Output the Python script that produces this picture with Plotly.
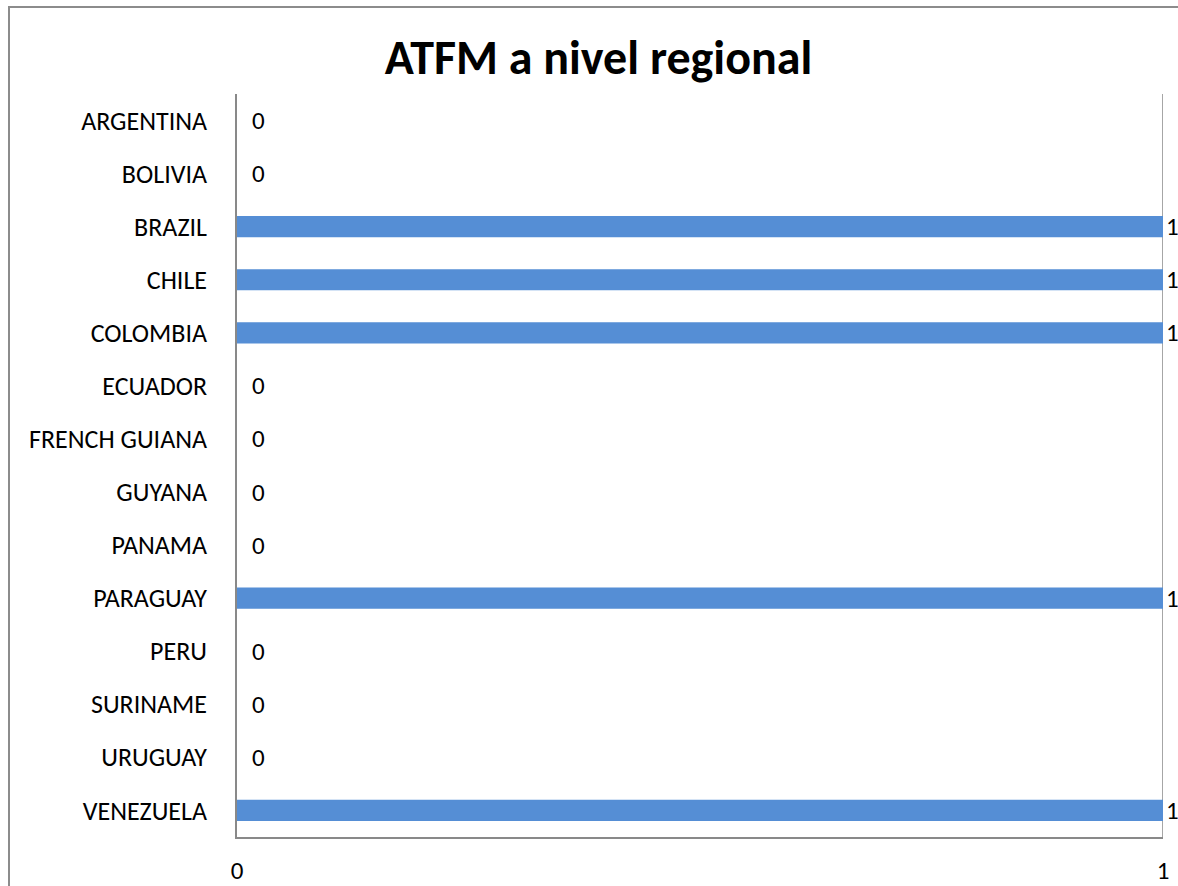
import plotly.graph_objects as go

countries = ["ARGENTINA", "BOLIVIA", "BRAZIL", "CHILE", "COLOMBIA", "ECUADOR",
             "FRENCH GUIANA", "GUYANA", "PANAMA", "PARAGUAY", "PERU", "SURINAME",
             "URUGUAY", "VENEZUELA"]
values = [0, 0, 1, 1, 1, 0, 0, 0, 0, 1, 0, 0, 0, 1]
x_ticks = [0, 1]
title_text = "ATFM a nivel regional"

FONT = "Carlito, Lato, sans-serif"
BAR = "#558ED5"
AX = "#898989"
FS = 26

fig = go.Figure()
fig.add_trace(go.Bar(
    x=values, y=countries, orientation="h",
    marker=dict(color=BAR, line=dict(width=0)),
    width=0.4, cliponaxis=False, hoverinfo="x+y",
))

annotations = []
for c, v in zip(countries, values):
    annotations.append(dict(
        x=v, y=c, xref="x", yref="y", text=str(v), showarrow=False,
        xanchor="left", yanchor="middle", xshift=13 if v == 0 else 1,
        font=dict(family=FONT, size=FS - 1, color="#000000"),
    ))

fig.update_layout(
    width=1178, height=886,
    margin=dict(l=237, r=15, t=94, b=49, autoexpand=False),
    paper_bgcolor="white", plot_bgcolor="white",
    showlegend=False,
    title=dict(text=f"<b>{title_text}</b>", x=598.5 / 1178, xanchor="center",
               y=1 - 57 / 886, yanchor="middle",
               font=dict(family=FONT, size=48, color="#000000")),
    font=dict(family=FONT, size=FS, color="#000000"),
    annotations=annotations,
    shapes=[
        dict(type="rect", xref="paper", yref="paper",
             x0=(9 - 237) / 926, x1=1.2, y0=-0.3, y1=1 + (94 - 7) / 743,
             line=dict(color="#8c8c8c", width=2), layer="below"),
        dict(type="line", xref="x", yref="paper", x0=x_ticks[-1], x1=x_ticks[-1],
             y0=0, y1=1, line=dict(color=AX, width=1.5), layer="below"),
    ],
)
fig.update_xaxes(range=[0, 1], tickvals=x_ticks, ticktext=[str(t) for t in x_ticks],
                 showgrid=True, gridcolor=AX, gridwidth=1.5, zeroline=False,
                 showline=True, linecolor=AX, linewidth=1.5, ticks="",
                 ticklabelstandoff=10, tickfont=dict(family=FONT, size=FS - 1))
fig.update_yaxes(autorange="reversed", showgrid=False, zeroline=False,
                 showline=True, linecolor=AX, linewidth=1.5, ticks="",
                 ticklabelstandoff=23, tickfont=dict(family=FONT, size=FS))

fig.write_html("out.html", config={"displayModeBar": False},
               post_script="document.body.style.margin='0';document.body.style.overflow='hidden';")
